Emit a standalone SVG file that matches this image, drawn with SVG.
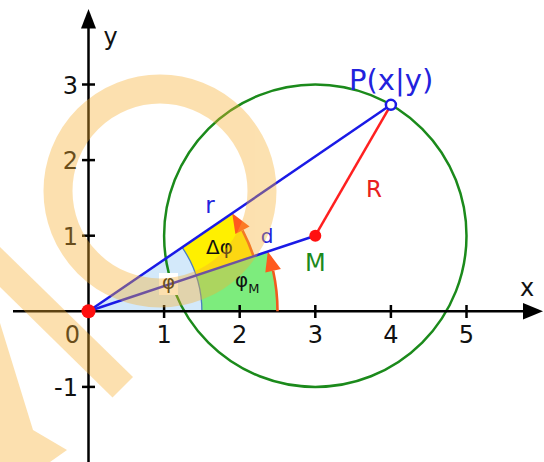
<svg xmlns="http://www.w3.org/2000/svg" width="544" height="462" viewBox="0 0 544 462">
<style>
text{font-family:"DejaVu Sans","Liberation Sans",sans-serif}
.num{font-size:24px;fill:#111}
.ax{stroke:#000;stroke-width:2.5;fill:none}
.blue{stroke:#1a1ae6;stroke-width:2.5;fill:none}
.arc{stroke:#f05a1e;stroke-width:2.6;fill:none}
.head{fill:#ff5a1e}
</style>
<rect width="544" height="462" fill="#fff"/>
<g id="sectors">
<path d="M88.5 311.3 L277.5 311.3 A189 189 0 0 0 267.8 251.5 Z" fill="#7dec7d"/>
<path d="M88.5 311.3 L253.57 256.28 A174 174 0 0 0 232.18 213.16 Z" fill="#fff000"/>
<path d="M88.5 311.3 L201.9 311.3 A113.4 113.4 0 0 0 182.15 247.34 Z" fill="#d3e9fa"/>
<path d="M201.9 311.3 A113.4 113.4 0 0 0 182.15 247.34" stroke="#4a7fc0" stroke-width="1.3" fill="none"/>
</g>
<g id="circle">
<circle cx="315.3" cy="235.7" r="151.2" fill="none" stroke="#1b8a1b" stroke-width="2.5"/>
</g>
<rect x="159" y="273" width="19" height="22" fill="#fff"/>
<g id="axes">
<line class="ax" x1="13" y1="311.3" x2="526" y2="311.3"/>
<polygon points="543,311.3 523,303 523,319.6" fill="#000"/>
<line class="ax" x1="88.5" y1="462" x2="88.5" y2="26"/>
<polygon points="88.5,9 81,28.5 96,28.5" fill="#000"/>
<g class="ax">
<line x1="164.1" y1="305" x2="164.1" y2="318"/>
<line x1="239.7" y1="305" x2="239.7" y2="318"/>
<line x1="315.3" y1="305" x2="315.3" y2="318"/>
<line x1="390.9" y1="305" x2="390.9" y2="318"/>
<line x1="466.5" y1="305" x2="466.5" y2="318"/>
<line x1="82" y1="235.7" x2="95" y2="235.7"/>
<line x1="82" y1="160.1" x2="95" y2="160.1"/>
<line x1="82" y1="84.5" x2="95" y2="84.5"/>
<line x1="82" y1="386.9" x2="95" y2="386.9"/>
</g>
<g class="num" text-anchor="middle">
<text x="72.5" y="343">0</text>
<text x="164.1" y="343">1</text>
<text x="239.7" y="343">2</text>
<text x="315.3" y="343">3</text>
<text x="390.9" y="343">4</text>
<text x="466.5" y="343">5</text>
</g>
<g class="num" text-anchor="end">
<text x="78" y="94">3</text>
<text x="78" y="169">2</text>
<text x="78" y="245">1</text>
<text x="78" y="396">-1</text>
</g>
<text class="num" x="527" y="296" text-anchor="middle">x</text>
<text class="num" x="110.5" y="45" text-anchor="middle">y</text>
</g>
<g id="connectors">
<path class="arc" d="M277.5 311.3 A189 189 0 0 0 273.1 270.8"/>
<polygon class="head" points="267.8,251.5 280.9,269.1 265.3,272.5"/>
<path class="arc" d="M253.57 256.28 A174 174 0 0 0 242.5 230.3"/>
<polygon class="head" points="232.18,213.16 249.6,226.6 235.4,234.0"/>
<line class="blue" x1="88.5" y1="311.3" x2="390.9" y2="104.8"/>
<line class="blue" x1="88.5" y1="311.3" x2="315.3" y2="235.7"/>
<line x1="315.3" y1="235.7" x2="390.9" y2="104.8" stroke="#ff2020" stroke-width="2.5"/>
</g>
<g id="O"><circle cx="88.5" cy="311.3" r="7" fill="#ff1010"/></g>
<g id="M"><circle cx="315.3" cy="235.7" r="6" fill="#ff1010"/>
<text x="305" y="271" font-size="24" fill="#1b8a1b">M</text></g>
<g id="P"><circle cx="390.9" cy="104.8" r="5" fill="#fff" stroke="#1a1ae6" stroke-width="2.5"/>
<text x="349" y="90" font-size="29" fill="#2222dd">P(x|y)</text></g>
<g id="labels">
<text x="210" y="213" font-size="23" fill="#2222dd" text-anchor="middle">r</text>
<text x="267" y="243" font-size="20" fill="#2222dd" text-anchor="middle">d</text>
<text x="374" y="197" font-size="23" fill="#e82020" text-anchor="middle">R</text>
<text x="206" y="254" font-size="20" fill="#111">Δφ</text>
<text x="235" y="287" font-size="20" fill="#111">φ<tspan font-size="13" dy="6">M</tspan></text>
<text x="168.5" y="289" font-size="20" fill="#111" text-anchor="middle">φ</text>
</g>
<g id="watermark" fill="#f8b030" opacity="0.38">
<circle cx="160" cy="191" r="102" fill="none" stroke="#f8b030" stroke-width="29"/>
<polygon points="0,247 133,377 112.5,397.5 0,287"/>
<polygon points="0,323 33,430 67,450 50,462 0,462"/>
</g>
</svg>
